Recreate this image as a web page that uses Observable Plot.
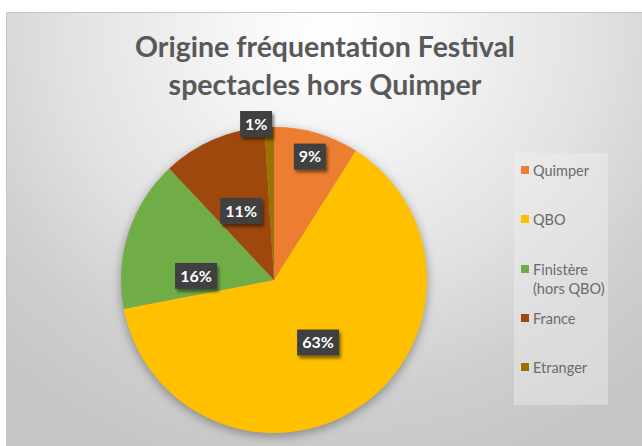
<!DOCTYPE html>
<html>
<head>
<meta charset="utf-8">
<script src="https://cdn.jsdelivr.net/npm/d3@7"></script>
<script src="https://cdn.jsdelivr.net/npm/@observablehq/plot@0.6"></script>
<style>
html,body{margin:0;padding:0;background:#fff;}
#frame{position:absolute;left:6px;top:12px;width:636px;height:434px;overflow:hidden;
  background:radial-gradient(ellipse 75% 105% at 51% 4%, #ffffff 0%, #f6f6f6 20%, #e2e2e2 55%, #cfcfcf 80%, #c6c6c6 100%);
  border-top:1px solid #c4c4c4;border-left:1px solid #c4c4c4;box-sizing:border-box;}
#title{position:absolute;left:0;top:14px;width:636px;text-align:center;font-family:Lato,sans-serif;font-weight:700;font-size:28.5px;line-height:38px;color:#595959;}
#plot{position:absolute;left:-1px;top:-1px;}
#legend{position:absolute;left:507px;top:140px;width:94px;height:252px;background:rgba(240,240,240,0.42);}
.item{position:absolute;left:19px;font-family:Lato,sans-serif;font-size:14.5px;line-height:19px;color:#6a6a6a;white-space:nowrap;}
.sw{position:absolute;left:7px;width:8px;height:8px;}
</style>
</head>
<body>
<div id="frame">
  <div id="plot"></div>
  <div id="title">Origine fréquentation Festival<br>spectacles hors Quimper</div>
  <div id="legend"></div>
</div>
<script>
// ---- data ----
const categories = ["Quimper", "QBO", "Finistère (hors QBO)", "France", "Etranger"];
const legendLines = [["Quimper"], ["QBO"], ["Finistère", "(hors QBO)"], ["France"], ["Etranger"]];
const shares = [9, 63, 16, 11, 1];
const pctLabels = ["9%", "63%", "16%", "11%", "1%"];
const colors = ["#ED7D31", "#FFC000", "#70AD47", "#9E480E", "#997300"];

const data = categories.map((c, i) => ({category: c, value: shares[i], label: pctLabels[i], color: colors[i]}));

// label placement (layout, Excel "best fit" look): radial fraction, angle shift (deg), pixel shift
const labelLayout = {
  "Quimper": {f: 0.84, da: 0, dx: 0},
  "QBO": {f: 0.50, da: -1, dx: 0},
  "Finistère (hors QBO)": {f: 0.51, da: -15, dx: 0},
  "France": {f: 0.50, da: -2, dx: 0},
  "Etranger": {f: 1.02, da: 0, dx: -13}
};

const CX = 268, CY = 268, R = 153;

function pieMark(index, scales) {
  const cx = scales.x(0), cy = scales.y(0);
  const r = scales.x(1) - scales.x(0);
  const arcs = d3.pie().sort(null).value(d => d.value)(data);
  const arc = d3.arc().innerRadius(0).outerRadius(r);
  const g = d3.create("svg:g");
  const defs = g.append("defs");
  const f1 = defs.append("filter").attr("id", "pieShadow").attr("x", "-20%").attr("y", "-20%").attr("width", "140%").attr("height", "140%");
  f1.append("feGaussianBlur").attr("stdDeviation", 5);
  const f2 = defs.append("filter").attr("id", "boxShadow").attr("x", "-30%").attr("y", "-30%").attr("width", "160%").attr("height", "160%");
  f2.append("feDropShadow").attr("dx", 2).attr("dy", 3).attr("stdDeviation", 1.5).attr("flood-color", "#000").attr("flood-opacity", 0.45);

  g.append("circle").attr("cx", cx).attr("cy", cy + 3).attr("r", r + 1)
    .attr("fill", "#000").attr("fill-opacity", 0.3).attr("filter", "url(#pieShadow)");

  const slices = g.append("g").attr("transform", `translate(${cx},${cy})`);
  slices.selectAll("path").data(arcs).join("path")
    .attr("d", arc).attr("fill", d => d.data.color);

  const lab = g.append("g");
  for (const a of arcs) {
    const L = labelLayout[a.data.category];
    const mid = (a.startAngle + a.endAngle) / 2 + L.da * Math.PI / 180;
    const x = cx + Math.sin(mid) * r * L.f + L.dx;
    const y = cy - Math.cos(mid) * r * L.f;
    const w = 12 + 10 * a.data.label.length;
    const h = 26;
    lab.append("rect").attr("x", x - w / 2).attr("y", y - h / 2).attr("width", w).attr("height", h)
      .attr("fill", "#404040").attr("filter", "url(#boxShadow)");
    lab.append("text").attr("x", x).attr("y", y).attr("dy", "0.36em")
      .attr("text-anchor", "middle").attr("fill", "#fff")
      .attr("font-family", "Lato, sans-serif").attr("font-weight", 700).attr("font-size", 16)
      .text(a.data.label);
  }
  return g.node();
}

const chart = Plot.plot({
  width: 636,
  height: 434,
  margin: 0,
  style: {background: "transparent", overflow: "visible"},
  x: {domain: [-1, 1], range: [CX - R, CX + R], axis: null},
  y: {domain: [-1, 1], range: [CY + R, CY - R], axis: null},
  marks: [pieMark]
});
document.getElementById("plot").appendChild(chart);

// legend
const legendY = [157, 206, 256, 305, 354]; // text centre rows (frame coords)
const leg = document.getElementById("legend");
const top0 = 140;
legendLines.forEach((lines, i) => {
  const sw = document.createElement("div");
  sw.className = "sw";
  sw.style.background = colors[i];
  sw.style.top = (legendY[i] - top0 - 4) + "px";
  leg.appendChild(sw);
  const t = document.createElement("div");
  t.className = "item";
  t.style.top = (legendY[i] - top0 - 9.5) + "px";
  t.innerHTML = lines.join("<br>");
  leg.appendChild(t);
});
</script>
</body>
</html>
